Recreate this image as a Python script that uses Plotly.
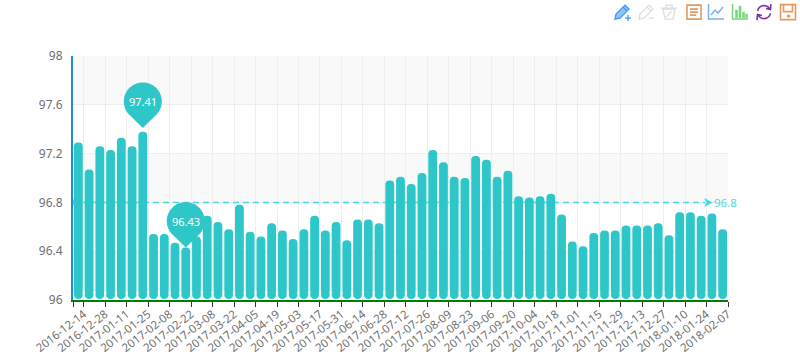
import math
import numpy as np
import pandas as pd
import plotly.graph_objects as go

dates = pd.date_range("2016-12-07", "2018-02-07", freq="7D").strftime("%Y-%m-%d").tolist()
values = [97.29, 97.07, 97.26, 97.23, 97.33, 97.26, 97.38, 96.54, 96.54, 96.47,
          96.43, 96.52, 96.69, 96.64, 96.58, 96.78, 96.56, 96.52, 96.63, 96.57,
          96.50, 96.58, 96.69, 96.57, 96.64, 96.49, 96.66, 96.66, 96.63, 96.98,
          97.01, 96.95, 97.04, 97.23, 97.13, 97.01, 97.00, 97.18, 97.15, 97.01,
          97.06, 96.85, 96.84, 96.85, 96.87, 96.70, 96.48, 96.44, 96.55, 96.57,
          96.57, 96.61, 96.61, 96.61, 96.63, 96.53, 96.72, 96.72, 96.69, 96.71,
          96.58]
tick_labels = dates[1::2]
pin_index = [6, 10]
pin_values = [97.41, 96.43]
mean_value = 96.8
y_ticks = [96, 96.4, 96.8, 97.2, 97.6, 98]

BAR = "#2ec7c9"
MEAN = "#45dbe0"
L, R, T, B = 73, 728, 55.5, 300
W, H = 800, 354
positions = list(range(len(values)))
tick_pos = [-0.5] + [p + 0.5 for p in positions[0::2]]
tick_text = [""] + tick_labels

fig = go.Figure()
BASE = 96.044
fig.add_bar(x=positions, y=[v - BASE for v in values], base=BASE,
            width=0.82, marker=dict(color=BAR, line_width=0, cornerradius=4.2),
            hovertext=dates, showlegend=False)
# rounded feet of the bars
fig.add_scatter(x=positions, y=[BASE] * len(values), mode="markers",
                marker=dict(color=BAR, size=8.8, line_width=0),
                hoverinfo="skip", showlegend=False)

shapes = []
# alternating split areas
for lo, hi, col in [(97.6, 98, "#f9f9f9"), (96.8, 97.2, "#f9f9f9"), (96, 96.4, "#f9f9f9")]:
    shapes.append(dict(type="rect", xref="paper", x0=0, x1=1, yref="y", y0=lo, y1=hi,
                       fillcolor=col, line_width=0, layer="below"))
# mean line
x_end = 59.1
mean_start = -0.5
shapes.append(dict(type="line", xref="x", yref="y", x0=mean_start, x1=x_end - 0.7,
                   y0=mean_value, y1=mean_value, layer="between",
                   line=dict(color=MEAN, width=1.5, dash="6px,4px")))
shapes.append(dict(type="circle", xref="x", yref="y", xsizemode="pixel", ysizemode="pixel",
                   xanchor=mean_start, yanchor=mean_value, x0=-3, x1=3, y0=-3, y1=3,
                   fillcolor=MEAN, line_width=0, layer="between"))
shapes.append(dict(type="path", xref="x", yref="y", xsizemode="pixel", ysizemode="pixel",
                   xanchor=x_end, yanchor=mean_value,
                   path="M 0 0 L -9 4.5 L -6.5 0 L -9 -4.5 Z",
                   fillcolor=MEAN, line_width=0))


def arc(cx, cy, r, a0, a1, n=24):
    return [(cx + r * math.cos(math.radians(a)), cy + r * math.sin(math.radians(a)))
            for a in np.linspace(a0, a1, n)]


def pin_path():
    pts = [(0, 0)] + arc(0, 26.5, 19, -40, 220, 60)
    return "M " + " L ".join(f"{x:.2f} {y:.2f}" for x, y in pts) + " Z"


annotations = []
for idx, val in zip(pin_index, pin_values):
    shapes.append(dict(type="path", xref="x", yref="y", xsizemode="pixel", ysizemode="pixel",
                       xanchor=idx, yanchor=val, path=pin_path(), fillcolor=BAR, line_width=0))
    annotations.append(dict(x=idx, y=val, xref="x", yref="y", text=f"{val:.2f}", showarrow=False,
                            yshift=26, font=dict(color="white", size=11, family="Noto Sans")))
annotations.append(dict(x=x_end, y=mean_value, xref="x", yref="y", text=f"{mean_value}", showarrow=False,
                        xanchor="left", xshift=-1, font=dict(color=MEAN, size=11.5, family="Noto Sans")))


# toolbox icons (screen pixels relative to an icon centre)
def icon(cx, subpaths, color, fill=None, width=1.3):
    d = []
    for pts, closed in subpaths:
        d.append("M " + " L ".join(f"{x:.2f} {-y:.2f}" for x, y in pts) + (" Z" if closed else ""))
    shapes.append(dict(type="path", xref="paper", yref="paper", xsizemode="pixel", ysizemode="pixel",
                       xanchor=(cx - L) / (R - L), yanchor=(B - 11.5) / (B - T), path=" ".join(d),
                       fillcolor=fill or "rgba(0,0,0,0)", line=dict(color=color, width=width)))


pencil = [([(-7, 7), (-6, 2), (3, -7), (7, -3), (-2, 6)], True), ([(1, -5), (5, -1)], False)]
icon(622, pencil + [([(3, 6), (9, 6)], False), ([(6, 3), (6, 9)], False)], "#3e98f5", "#8cc4fa")
icon(646, pencil + [([(3, 6), (8, 6)], False)], "#dddddd")
icon(669, [([(-6, -3), (6, -3), (4, 7), (-4, 7)], True), ([(-8, -4), (8, -4)], False),
           ([(-3, -4), (-3, -7), (3, -7), (3, -4)], False), ([(-3, 5), (3, -1)], False)], "#dddddd")
icon(694, [([(-7, -7), (7, -7), (7, 7), (-7, 7)], True), ([(-4, -3), (4, -3)], False),
           ([(-4, 0), (4, 0)], False), ([(-4, 3), (2, 3)], False)], "#e5995c", width=1.6)
icon(716, [([(-7.5, -8), (-7.5, 7), (8, 7)], False), ([(-5, 3), (-1, -2), (2, 1), (7, -5)], False)],
     "#78b4f5", width=1.5)
icon(740, [([(-7.5, -8), (-7.5, 7), (8, 7)], False)], "#75d775", width=1.5)
for bx, top in [(-3.5, -2), (0, -6), (3.5, 0), (6.5, 2)]:
    icon(740, [([(bx - 1, top), (bx + 1, top), (bx + 1, 5.5), (bx - 1, 5.5)], True)], "#75d775", "#75d775", 0.5)
icon(764, [(arc(0, 0, 6.5, 190, 340), False), (arc(0, 0, 6.5, 10, 160), False),
           ([(7, -8), (6.5, -2.5), (2, -3.5)], False), ([(-7, 8), (-6.5, 2.5), (-2, 3.5)], False)],
     "#7a33a8", width=1.6)
icon(788, [([(-7.5, -7.5), (7.5, -7.5), (7.5, 7.5), (-7.5, 7.5)], True),
           ([(-4.5, -7.5), (-4.5, -0.5), (4.5, -0.5), (4.5, -7.5)], False)], "#e5995c", width=1.6)
icon(788, [([(-1, 3), (2, 3), (2, 5), (-1, 5)], True)], "#e5995c", "#e5995c", 0.5)

fig.update_layout(
    width=W, height=H, autosize=False,
    margin=dict(l=L, r=W - R, t=T, b=H - B, pad=0),
    paper_bgcolor="white", plot_bgcolor="white",
    barmode="overlay",
    font=dict(family="Noto Sans", size=12, color="#666666"),
    shapes=shapes, annotations=annotations, showlegend=False,
)
fig.update_xaxes(
    range=[-0.5, len(values) - 0.5], tickmode="array", tickvals=tick_pos, ticktext=tick_text,
    tickangle=-38, ticks="outside", ticklen=5, tickwidth=1, tickcolor="#333333",
    showgrid=True, gridcolor="#eeeeee", gridwidth=1, zeroline=False, automargin=False,
    showline=True, linecolor="#008000", linewidth=2, tickfont=dict(size=11.5, color="#707070"),
    ticklabelstandoff=-4,
)
fig.update_yaxes(
    range=[96, 98], tickmode="array", tickvals=y_ticks, ticktext=[f"{v:g}" for v in y_ticks],
    ticks="", showgrid=True, gridcolor="#eeeeee", gridwidth=1, zeroline=False, automargin=False,
    showline=True, linecolor="#1e90d2", linewidth=2, tickfont=dict(size=12, color="#707070"),
    ticklabelstandoff=6,
)
fig.write_html("out.html", config=dict(displayModeBar=False),
               post_script="document.body.style.margin='0';document.body.style.overflow='hidden';")
